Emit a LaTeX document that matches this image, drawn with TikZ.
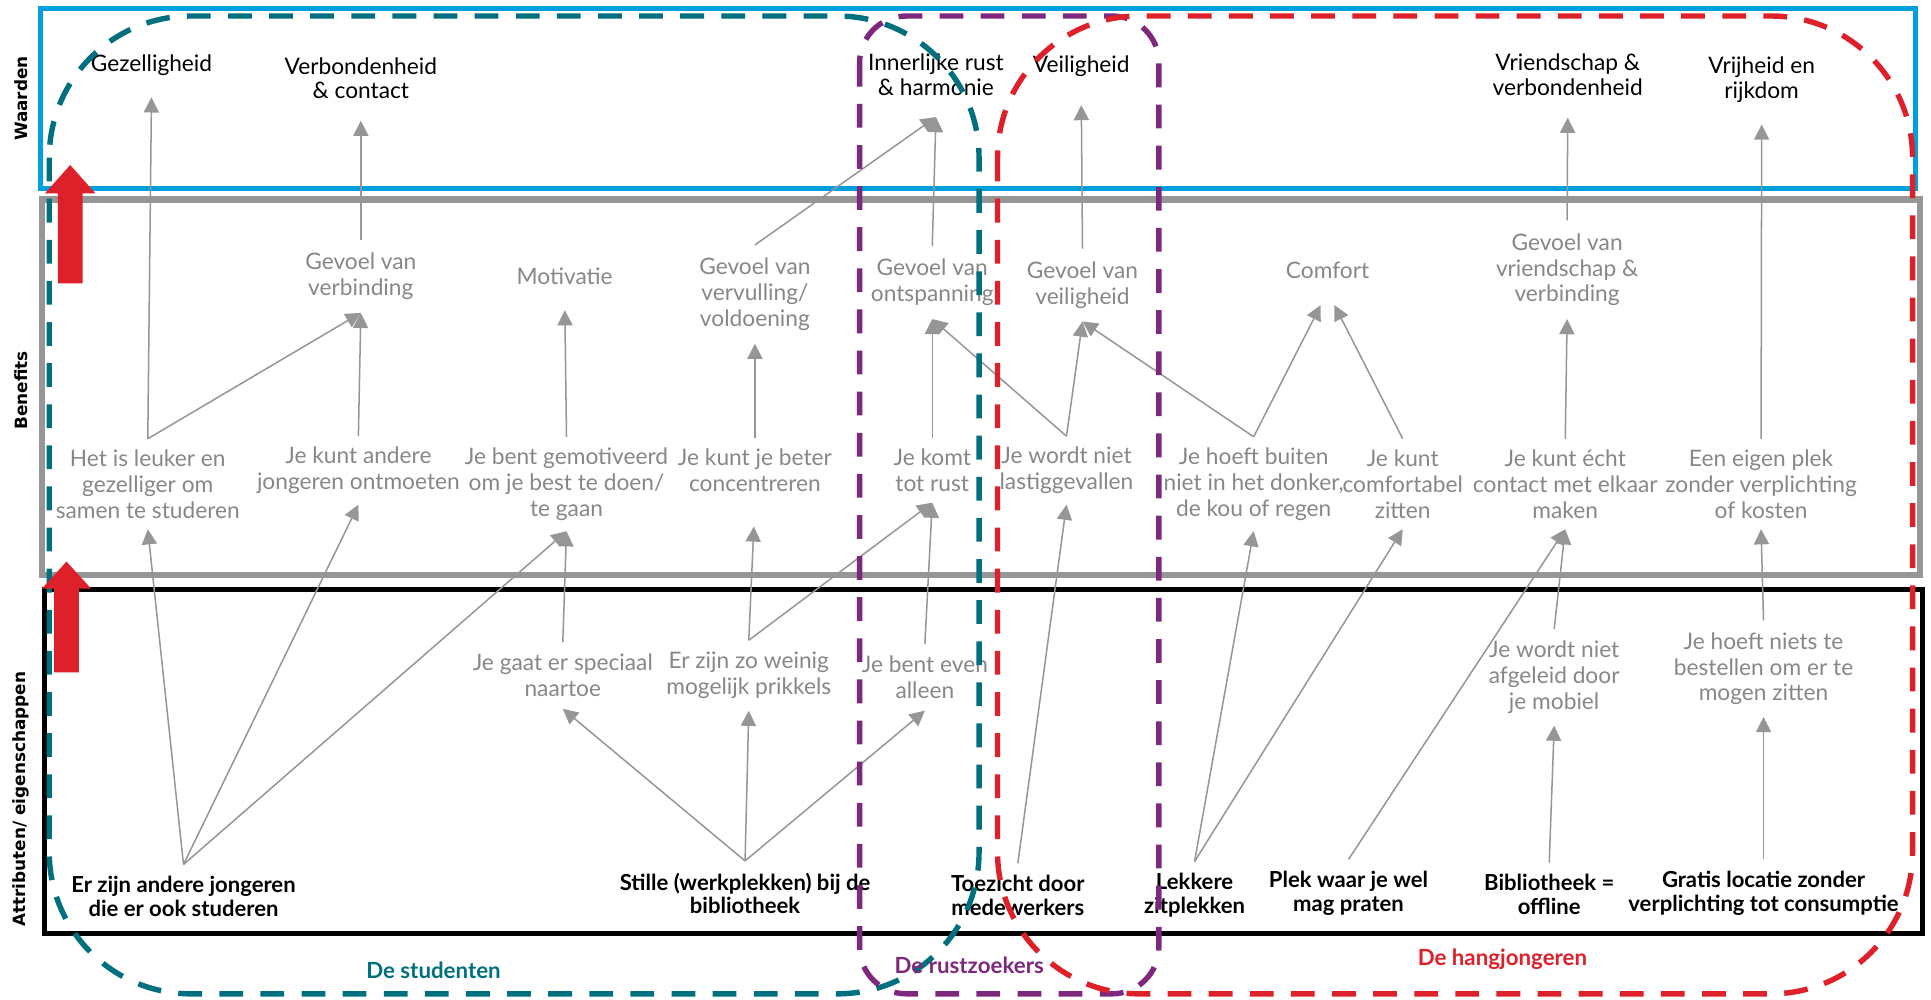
\documentclass[tikz,border=0pt]{standalone}
\usepackage{fontspec}
\setmainfont{Lato}
\newfontfamily\rijfont{DejaVu Sans}
\usetikzlibrary{arrows.meta, calc}
\definecolor{KaderBlauw}{RGB}{0,160,222}
\definecolor{KaderGrijs}{RGB}{150,150,150}
\definecolor{TekstGrijs}{RGB}{135,135,135}
\definecolor{StudentTeal}{RGB}{0,112,127}
\definecolor{RustPaars}{RGB}{125,40,125}
\definecolor{HangRood}{RGB}{221,32,42}

\begin{document}
\begin{tikzpicture}[x=0.02cm, y=-0.02cm,
    waarde/.style={align=center, font=\fontsize{10.5}{11.5}\selectfont, inner sep=0pt, outer sep=10pt},
    benefit/.style={align=center, text=TekstGrijs, font=\fontsize{10.5}{12}\selectfont, inner sep=0pt, outer sep=6pt},
    gevolg/.style={benefit, outer sep=5pt},
    kenmerk/.style={benefit, outer sep=5.5pt},
    attribuut/.style={align=center, font=\bfseries\fontsize{10.2}{11}\selectfont, inner sep=0pt, outer sep=5.5pt},
    groep/.style={font=\bfseries\fontsize{10.3}{12}\selectfont},
    rij/.style={rotate=90, font=\rijfont\bfseries\fontsize{7.8}{9}\selectfont},
    pijl/.style={draw=KaderGrijs, line width=0.7pt, -{Triangle[length=7pt, width=7pt]}},
    regio/.style={line width=2.5pt, dash pattern=on 11pt off 8pt}]
    \useasboundingbox (0,0) rectangle (1568,812);

    % kaders
    \draw[KaderBlauw, line width=2.3pt] (33,7) rectangle (1555,153);
    \draw[KaderGrijs, line width=2.8pt] (34,162) rectangle (1559,467);
    \draw[black, line width=2.3pt]      (36,479) rectangle (1561,758);

    \node[rij] (rWaarden)  at (17,80)  {Waarden};
    \node[rij] (rBenefits) at (17,317) {Benefits};
    \node[rij] (rAttr)     at (17,649) {Attributen/ eigenschappen};

    % waarden
    \node[waarde] (gezellig)    at (123,53)    {Gezelligheid};
    \node[waarde] (verbonden)   at (293,63.5)  {Verbondenheid\\\& contact};
    \node[waarde] (innerlijk)   at (760,60.5)  {Innerlijke rust\\\& harmonie};
    \node[waarde] (veilig)      at (878,54)    {Veiligheid};
    \node[waarde] (vriendschap) at (1273,61)   {Vriendschap \&\\verbondenheid};
    \node[waarde] (vrijheid)    at (1430.5,65) {Vrijheid en\\rijkdom};

    % benefits
    \node[benefit] (gvVerbinding)  at (293,224.5)  {Gevoel van\\verbinding};
    \node[benefit] (motivatie)     at (458.5,224)  {Motivatie};
    \node[benefit] (gvVervulling)  at (613,239)    {Gevoel van\\vervulling/\\voldoening};
    \node[benefit] (gvOntspanning) at (757,229.5)  {Gevoel van\\ontspanning};
    \node[benefit] (gvVeiligheid)  at (879,231.5)  {Gevoel van\\veiligheid};
    \node[benefit] (comfort)       at (1078,219.5) {Comfort};
    \node[benefit] (gvVriendschap) at (1272.5,219) {Gevoel van\\vriendschap \&\\verbinding};

    \node[gevolg] (leuker)       at (120,393)  {Het is leuker en\\gezelliger om\\samen te studeren};
    \node[gevolg] (kuntAndere)   at (291,382)  {Je kunt andere\\jongeren ontmoeten};
    \node[gevolg] (gemotiveerd)  at (460,393)  {Je bent gemotiveerd\\om je best te doen/\\te gaan};
    \node[gevolg] (concentreren) at (613,382)  {Je kunt je beter\\concentreren};
    \node[gevolg] (totRust)      at (757,382)  {Je komt\\tot rust};
    \node[gevolg] (lastig)       at (866,382)  {Je wordt niet\\lastiggevallen};
    \node[gevolg] (buiten)       at (1018,393) {Je hoeft buiten\\niet in het donker,\\de kou of regen};
    \node[gevolg] (comfortabel)  at (1139,393) {Je kunt\\comfortabel\\zitten};
    \node[gevolg] (echt)         at (1271,393) {Je kunt écht\\contact met elkaar\\maken};
    \node[gevolg] (eigenPlek)    at (1430,393) {Een eigen plek\\zonder verplichting\\of kosten};

    % attributen
    \node[kenmerk] (speciaal)  at (457,548.5) {Je gaat er speciaal\\naartoe};
    \node[kenmerk] (prikkels)  at (608,548.5) {Er zijn zo weinig\\mogelijk prikkels};
    \node[kenmerk] (alleen)    at (751,550)   {Je bent even\\alleen};
    \node[kenmerk] (afgeleid)  at (1262,550)  {Je wordt niet\\afgeleid door\\je mobiel};
    \node[kenmerk] (bestellen) at (1432,543)  {Je hoeft niets te\\bestellen om er te\\mogen zitten};

    \node[attribuut] (andere)   at (149,728)    {Er zijn andere jongeren\\die er ook studeren};
    \node[attribuut] (stille)   at (605,725.5)  {Stille (werkplekken) bij de\\bibliotheek};
    \node[attribuut] (toezicht) at (826.5,727)  {Toezicht door\\medewerkers};
    \node[attribuut] (lekkere)  at (970,727)    {Lekkere\\zitplekken};
    \node[attribuut] (praten)   at (1095,725.5) {Plek waar je wel\\mag praten};
    \node[attribuut] (offline)  at (1258,726.5) {Bibliotheek =\\offline};
    \node[attribuut] (gratis)   at (1432,725.5) {Gratis locatie zonder\\verplichting tot consumptie};

    % pijlen benefits -> waarden
    \draw[pijl] (leuker.north) -- (gezellig.south);
    \draw[pijl] (leuker.north) -- (gvVerbinding.south);
    \draw[pijl] (kuntAndere.north) -- (gvVerbinding.south);
    \draw[pijl] (gvVerbinding.north) -- (verbonden.south);
    \draw[pijl, shorten >=6pt] (gemotiveerd.north) -- (motivatie.south);
    \draw[pijl] (concentreren.north) -- (gvVervulling.south);
    \draw[pijl] (gvVervulling.north) -- (innerlijk.south);
    \draw[pijl] (gvOntspanning.north) -- (innerlijk.south);
    \draw[pijl] (totRust.north) -- (gvOntspanning.south);
    \draw[pijl] (lastig.north) -- (gvOntspanning.south);
    \draw[pijl] (lastig.north) -- (gvVeiligheid.south);
    \draw[pijl, shorten >=3pt] (gvVeiligheid.north) -- (veilig.south);
    \draw[pijl] (buiten.north) -- (gvVeiligheid.south);
    \draw[pijl, shorten >=7pt] (buiten.north) -- (comfort.south);
    \draw[pijl, shorten >=7pt] (comfortabel.north) -- (comfort.south);
    \draw[pijl] (gvVriendschap.north) -- (vriendschap.south);
    \draw[pijl] (echt.north) -- (gvVriendschap.south);
    \draw[pijl] (eigenPlek.north) -- (vrijheid.south);

    % pijlen attributen -> benefits
    \draw[pijl] (andere.north) -- (leuker.south);
    \draw[pijl] (andere.north) -- (kuntAndere.south);
    \draw[pijl] (andere.north) -- (gemotiveerd.south);
    \draw[pijl] (speciaal.north) -- (gemotiveerd.south);
    \draw[pijl, shorten >=11pt] (prikkels.north) -- (concentreren.south);
    \draw[pijl] (prikkels.north) -- (totRust.south);
    \draw[pijl] (alleen.north) -- (totRust.south);
    \draw[pijl] (stille.north) -- (speciaal.south);
    \draw[pijl] (stille.north) -- (prikkels.south);
    \draw[pijl] (stille.north) -- (alleen.south);
    \draw[pijl] (toezicht.north) -- (lastig.south);
    \draw[pijl] (lekkere.north) -- (buiten.south);
    \draw[pijl] (lekkere.north) -- (comfortabel.south);
    \draw[pijl] (praten.north) -- (echt.south);
    \draw[pijl] (afgeleid.north) -- (echt.south);
    \draw[pijl] (offline.north) -- (afgeleid.south);
    \draw[pijl] (gratis.north) -- (bestellen.south);
    \draw[pijl] (bestellen.north) -- (eigenPlek.south);

    % doelgroepen
    \draw[regio, StudentTeal, rounded corners=2.3cm] (40,13) rectangle (795,807);
    \draw[regio, RustPaars, rounded corners=0.76cm]  (698,13) rectangle (941,807);
    \draw[regio, HangRood, rounded corners=2.3cm]    (810,13) rectangle (1553,807);
    \node[groep, text=StudentTeal] (studenten)    at (352,788)  {De studenten};
    \node[groep, text=RustPaars]   (rustzoekers)  at (787,784)  {De rustzoekers};
    \node[groep, text=HangRood]    (hangjongeren) at (1220,779) {De hangjongeren};

    % richting
    \fill[HangRood] (47,230) -- (47,157) -- (36.5,157) -- (57,134) -- (77.5,157) -- (67,157) -- (67,230) -- cycle;
    \fill[HangRood] (44,546) -- (44,478) -- (34,478) -- (54,456) -- (74,478) -- (64,478) -- (64,546) -- cycle;
\end{tikzpicture}
\end{document}
